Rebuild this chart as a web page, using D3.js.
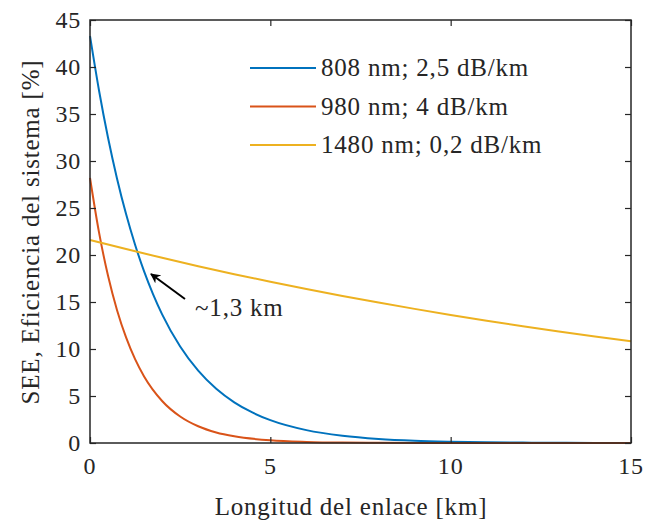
<!DOCTYPE html>
<html>
<head>
<meta charset="utf-8">
<script src="https://cdn.jsdelivr.net/npm/d3@7"></script>
</head>
<body style="margin:0;background:#fff">
<div id="wrap" style="position:relative;width:645px;height:523px"><svg id="chart" width="645" height="523" style="position:absolute;left:0;top:0"></svg></div>
<script>
// values
var x808 = [0, 0.25, 0.5, 0.75, 1, 1.25, 1.5, 1.75, 2, 2.5, 3, 3.5, 4, 4.5, 5, 6, 7, 8, 9, 10, 11, 12, 13, 14, 15];
var y808 = [43.3, 37.5, 32.47, 28.12, 24.35, 21.09, 18.26, 15.82, 13.69, 10.27, 7.70, 5.77, 4.33, 3.25, 2.43, 1.37, 0.77, 0.43, 0.24, 0.14, 0.08, 0.04, 0.02, 0.01, 0.01];
var x980 = [0, 0.25, 0.5, 0.75, 1, 1.25, 1.5, 2, 2.5, 3, 3.5, 4, 5, 6, 7, 8, 10, 12, 15];
var y980 = [28.2, 22.4, 17.79, 14.13, 11.23, 8.92, 7.08, 4.47, 2.82, 1.78, 1.12, 0.71, 0.28, 0.11, 0.04, 0.02, 0.0, 0.0, 0.0];
var x1480 = [0, 1, 2, 3, 4, 5, 6, 7, 8, 9, 10, 11, 12, 13, 14, 15];
var y1480 = [21.6, 20.63, 19.70, 18.81, 17.96, 17.15, 16.38, 15.64, 14.94, 14.27, 13.62, 13.01, 12.42, 11.86, 11.33, 10.82];
var series_names = ["808 nm; 2,5 dB/km", "980 nm; 4 dB/km", "1480 nm; 0,2 dB/km"];
var series_colors = ["#0072BD", "#D95319", "#EDB120"];
var x_ticks = [0, 5, 10, 15];
var y_ticks = [0, 5, 10, 15, 20, 25, 30, 35, 40, 45];

var INK = "#262626";
var L = 90, R = 631, T = 20, B = 443;
var wrap = d3.select("#wrap");
var svg = d3.select("#chart");
var x = d3.scaleLinear().domain([0, 15]).range([L, R]);
var y = d3.scaleLinear().domain([0, 45]).range([B, T]);

function zip(xs, ys) {
	return xs.map(function(v, i){ return [v, ys[i]]; });
}
var all = [zip(x808, y808), zip(x980, y980), zip(x1480, y1480)];

var line = d3.line()
	.x(function(d){ return x(d[0]); })
	.y(function(d){ return y(d[1]); })
	.curve(d3.curveMonotoneX);

svg.selectAll("path.curve").data(all).enter()
	.append("path")
	.attr("class", "curve")
	.attr("d", line)
	.attr("fill", "none")
	.attr("stroke", function(d, i){ return series_colors[i]; })
	.attr("stroke-width", 2);

// tick marks inward on all four sides (labels are html, see below)
var TK = 6;
function styleAxis(g) {
	g.select(".domain").remove();
	g.selectAll("line").attr("stroke", INK).attr("stroke-width", 1.2);
}
svg.append("g").attr("transform", "translate(0," + B + ")")
	.call(d3.axisBottom(x).tickValues(x_ticks).tickSize(-TK).tickFormat(""))
	.call(styleAxis);
svg.append("g").attr("transform", "translate(0," + T + ")")
	.call(d3.axisTop(x).tickValues(x_ticks).tickSize(-TK).tickFormat(""))
	.call(styleAxis);
svg.append("g").attr("transform", "translate(" + L + ",0)")
	.call(d3.axisLeft(y).tickValues(y_ticks).tickSize(-TK).tickFormat(""))
	.call(styleAxis);
svg.append("g").attr("transform", "translate(" + R + ",0)")
	.call(d3.axisRight(y).tickValues(y_ticks).tickSize(-TK).tickFormat(""))
	.call(styleAxis);

svg.append("rect")
	.attr("x", L).attr("y", T).attr("width", R - L).attr("height", B - T)
	.attr("fill", "none").attr("stroke", INK).attr("stroke-width", 1.5);

// html text, font given inline as shorthand
function label(str, left, top, size, shift, rot) {
	return wrap.append("div")
		.attr("style", "position:absolute;white-space:nowrap;line-height:1;color:" + INK +
			";letter-spacing:0.8px;font:" + size + "px 'Liberation Serif'" +
			";left:" + left + "px;top:" + top + "px" +
			";transform:" + shift + (rot ? " rotate(" + rot + "deg)" : ""))
		.text(str);
}
x_ticks.forEach(function(v){
	label(v, x(v), 466, 24, "translate(-50%,-50%)");
});
y_ticks.forEach(function(v){
	label(v, 81, y(v), 24, "translate(-100%,-50%)");
});
label("Longitud del enlace [km]", 351, 507, 25, "translate(-50%,-50%)");
label("SEE, Eficiencia del sistema [%]", 31, (T + B) / 2, 25, "translate(-50%,-50%)", -90);

// legend
series_names.forEach(function(name, i){
	var yy = 68 + i * 38.5;
	svg.append("line")
		.attr("x1", 250).attr("x2", 316).attr("y1", yy).attr("y2", yy)
		.attr("stroke", series_colors[i])
		.attr("stroke-width", 2);
	label(name, 321, yy, 25, "translate(0,-50%)");
});

// annotation arrow
var ax1 = 185, ay1 = 299, ax2 = 151, ay2 = 274;
svg.append("defs").append("marker")
	.attr("id", "head").attr("viewBox", "0 0 10 10")
	.attr("refX", 9).attr("refY", 5)
	.attr("markerWidth", 5).attr("markerHeight", 5)
	.attr("orient", "auto")
	.append("path").attr("d", "M0,0 L10,5 L0,10 L3,5 Z").attr("fill", "#000");
svg.append("line")
	.attr("x1", ax1).attr("y1", ay1).attr("x2", ax2).attr("y2", ay2)
	.attr("stroke", "#000").attr("stroke-width", 2)
	.attr("marker-end", "url(#head)");
label("~1,3 km", 195, 308, 25, "translate(0,-50%)");
</script>
</body>
</html>
